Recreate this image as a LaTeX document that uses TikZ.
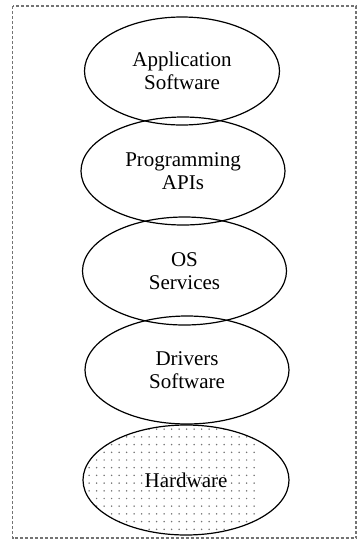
\documentclass[tikz,border=0pt]{standalone}
\usepackage{fontspec}
\setmainfont{Liberation Serif}
\usetikzlibrary{shapes.geometric}

\begin{document}
\begin{tikzpicture}[x=1pt, y=-1pt, font=\fontsize{21}{23}\selectfont]
\tikzset{layer/.style={ellipse, draw, line width=1.2pt, align=center, inner sep=0pt, minimum width=204, minimum height=108}}

\useasboundingbox (0,0) rectangle (361,547);

\draw[black!55, line width=1.2pt, dash pattern=on 3pt off 2pt] (12.5,6) rectangle (356,538);

% the layers, top to bottom
\node[layer, minimum width=195] (app) at (182,71) {Application\\Software};
\node[layer] (api) at (183,171) {Programming\\APIs};
\node[layer] (os) at (184.5,271) {OS\\Services};
\node[layer] (drv) at (187,370) {Drivers\\Software};
\node[layer, minimum width=206, minimum height=110,
  path picture={
    \foreach \x in {-108,-100.5,...,110}
      \foreach \y in {-58,-50.3,...,60}
        \fill[black!55] (\x,\y) circle (0.85);
  }] (hw) at (186,480) {Hardware};

\end{tikzpicture}
\end{document}
